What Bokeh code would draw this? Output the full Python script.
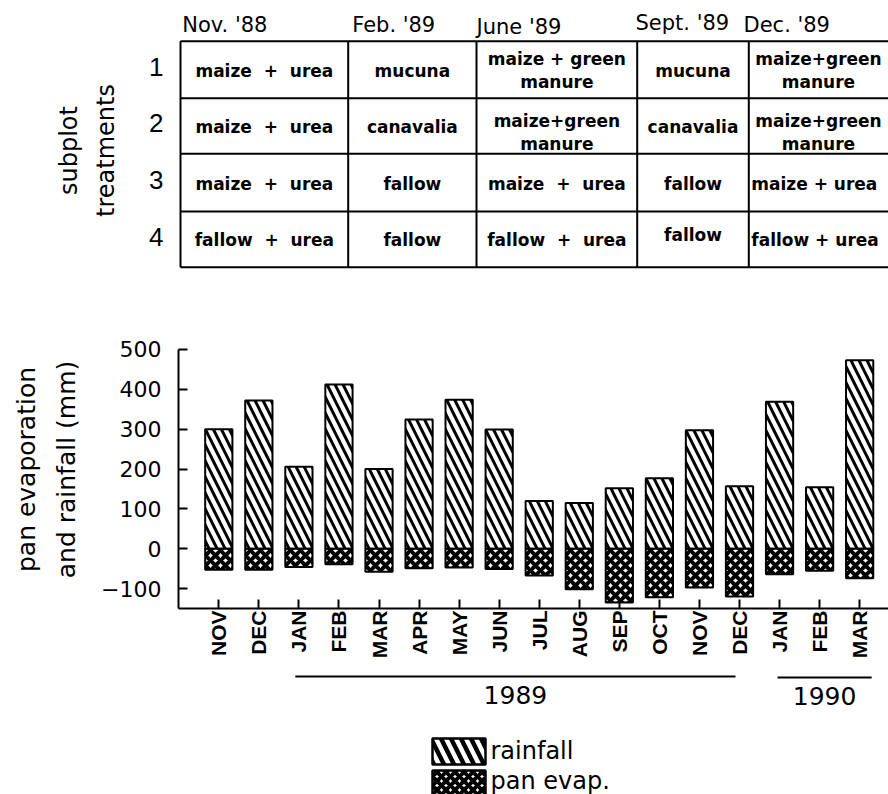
import math
from bokeh.plotting import figure
from bokeh.layouts import column
from bokeh.models import Range1d, LinearAxis, FixedTicker
from bokeh.core.properties import value
from bokeh.embed import file_html
from bokeh.resources import INLINE

# ---------------- data ----------------
months = ["NOV", "DEC", "JAN", "FEB", "MAR", "APR", "MAY", "JUN", "JUL",
          "AUG", "SEP", "OCT", "NOV", "DEC", "JAN", "FEB", "MAR"]
rainfall = [300, 372, 206, 412, 200, 324, 374, 299, 120,
            115, 152, 177, 297, 157, 369, 154, 473]
pan_evap = [53, 53, 46, 39, 58, 49, 47, 51, 67,
            102, 135, 122, 97, 120, 64, 55, 74]
y_ticks = [-100, 0, 100, 200, 300, 400, 500]

year_labels = ["1989", "1990"]
year_first_month = [2, 14]
year_last_month = [13, 16]

periods = ["Nov. '88", "Feb. '89", "June '89", "Sept. '89", "Dec. '89"]
plot_ids = ["1", "2", "3", "4"]
SP = "\u00a0"
treatments = [
    ["maize" + SP + " + " + SP + "urea", "mucuna", "maize + green\nmanure", "mucuna", "maize+green\nmanure"],
    ["maize" + SP + " + " + SP + "urea", "canavalia", "maize+green\nmanure", "canavalia", "maize+green\nmanure"],
    ["maize" + SP + " + " + SP + "urea", "fallow", "maize" + SP + " + " + SP + "urea", "fallow", "maize + urea"],
    ["fallow" + SP + " + " + SP + "urea", "fallow", "fallow" + SP + " + " + SP + "urea", "fallow", "fallow + urea"],
]
legend_labels = ["rainfall", "pan evap."]

# ---------------- styling / layout ----------------
W = 888
TOP_H, MID_H, BOT_H = 300, 368, 126
FRAME_LEFT = 178
SANS = "DejaVu Sans"
NUM = "Liberation Sans"
BASE_SHIFT = 8.5   # alphabetic baselines sit a little low in the svg output

# ---------------- treatment table ----------------
col_edges = [180, 347.7, 476, 636.7, 748.3, 905]
row_edges = [40.7, 97.7, 153.3, 211, 266.7]
header_x = [181.7, 351.7, 476, 635, 743]
header_y = [33, 33, 35, 31, 33]

top = figure(width=W, height=TOP_H, x_range=Range1d(FRAME_LEFT, W), y_range=Range1d(TOP_H, 0),
             output_backend="svg", toolbar_location=None, min_border_left=FRAME_LEFT,
             min_border_right=0, min_border_top=0, min_border_bottom=0,
             x_axis_location=None, y_axis_location=None)
top.grid.visible = False
top.outline_line_color = None

top.segment(x0=[col_edges[0]] * len(row_edges), x1=[col_edges[-1]] * len(row_edges),
            y0=row_edges, y1=row_edges, line_color="black", line_width=2)
top.segment(x0=col_edges[:-1], x1=col_edges[:-1],
            y0=[row_edges[0]] * (len(col_edges) - 1), y1=[row_edges[-1]] * (len(col_edges) - 1),
            line_color="black", line_width=2)

top.text(x=header_x, y=[h - BASE_SHIFT for h in header_y], text=periods,
         text_font=value(SANS), text_font_size="21px", text_align="left",
         text_baseline="alphabetic", text_color="black")

row_mid = [(row_edges[i] + row_edges[i + 1]) / 2 for i in range(len(plot_ids))]
id_ticks = [int(round(m - 3)) for m in row_mid]

# row numbers and the "subplot treatments" title live in the left panel
id_axis = LinearAxis(ticker=FixedTicker(ticks=id_ticks),
                     major_label_overrides={t: s for t, s in zip(id_ticks, plot_ids)},
                     axis_label="treatments")
title_axis = LinearAxis(ticker=FixedTicker(ticks=[]), axis_label="subplot")
for ax in (id_axis, title_axis):
    ax.axis_line_color = None
    ax.major_tick_line_color = None
    ax.minor_tick_line_color = None
    ax.major_tick_in = 0
    ax.major_tick_out = 0
    ax.axis_label_text_font = SANS
    ax.axis_label_text_font_size = "24px"
    ax.axis_label_text_font_style = "normal"
    ax.axis_label_text_color = "black"
id_axis.major_label_text_font = NUM
id_axis.major_label_text_font_size = "26px"
id_axis.major_label_text_color = "black"
id_axis.major_label_standoff = 15
id_axis.axis_label_standoff = 26
title_axis.major_label_standoff = 0
title_axis.axis_label_standoff = 7
top.add_layout(id_axis, "left")
top.add_layout(title_axis, "left")

# cell contents
cx, cy, ct, lx, ly, lt = [], [], [], [], [], []
for r, row in enumerate(treatments):
    for c, label in enumerate(row):
        if c == 4 and "\n" not in label:
            lx.append(col_edges[c] + 2.5)
            ly.append(row_mid[r] + 1)
            lt.append(label)
            continue
        x = 818 if c == 4 else (col_edges[c] + col_edges[c + 1]) / 2
        y = row_mid[r] + 1
        if "\n" in label and r == 1:
            y += 5
        if c == 3 and r == 3:
            y -= 5
        cx.append(x)
        cy.append(y)
        ct.append(label)
top.text(x=cx, y=cy, text=ct, text_font=value(SANS), text_font_size="17px",
         text_font_style="bold", text_align="center", text_baseline="middle",
         text_line_height=1.15, text_color="black")
top.text(x=lx, y=ly, text=lt, text_font=value(SANS), text_font_size="17px",
         text_font_style="bold", text_align="left", text_baseline="middle",
         text_color="black")

# ---------------- rainfall / evaporation bars ----------------
idx = list(range(len(months)))
p = figure(width=W, height=MID_H, x_range=Range1d(-1.006, 16.72),
           y_range=Range1d(-150, 547.6), output_backend="svg", toolbar_location=None,
           min_border_left=FRAME_LEFT, min_border_right=0, min_border_top=30,
           min_border_bottom=60, x_axis_location=None, y_axis_location=None)
p.grid.visible = False
p.outline_line_color = None

p.vbar(x=idx, top=rainfall, bottom=0, width=0.68, line_color="black", line_width=2,
       fill_color="white", hatch_pattern="\\", hatch_color="black",
       hatch_scale=16, hatch_weight=3)
p.vbar(x=idx, top=0, bottom=[-v for v in pan_evap], width=0.68, line_color="black",
       line_width=2, fill_color="white", hatch_pattern="x", hatch_color="black",
       hatch_scale=10, hatch_weight=4)

yaxis = LinearAxis(ticker=FixedTicker(ticks=y_ticks), bounds=(-150, 500),
                   major_label_overrides={-100: "\u2212100"},
                   axis_label="and rainfall (mm)")
xaxis = LinearAxis(ticker=FixedTicker(ticks=idx),
                   major_label_overrides={i: m for i, m in enumerate(months)},
                   major_label_orientation=math.pi / 2)
for ax in (yaxis, xaxis):
    ax.axis_line_width = 2
    ax.axis_line_color = "black"
    ax.major_tick_line_width = 2
    ax.major_tick_line_color = "black"
    ax.major_tick_in = 9
    ax.major_tick_out = 0
    ax.minor_tick_line_color = None
    ax.major_label_text_color = "black"

yaxis.major_label_text_font = SANS
yaxis.major_label_text_font_size = "22px"
yaxis.major_label_standoff = 17
yaxis.axis_label_text_font = SANS
yaxis.axis_label_text_font_size = "25px"
yaxis.axis_label_text_font_style = "normal"
yaxis.axis_label_text_color = "black"
yaxis.axis_label_standoff = 17

xaxis.major_label_text_font = NUM
xaxis.major_label_text_font_size = "21px"
xaxis.major_label_text_font_style = "bold"
xaxis.major_label_standoff = 2

ylabel2 = LinearAxis(ticker=FixedTicker(ticks=[]), axis_label="pan evaporation",
                     axis_line_color=None, major_tick_line_color=None,
                     minor_tick_line_color=None, major_tick_in=0, major_tick_out=0,
                     major_label_standoff=0,
                     axis_label_text_font=SANS, axis_label_text_font_size="25px",
                     axis_label_text_font_style="normal", axis_label_text_color="black",
                     axis_label_standoff=9)

p.add_layout(yaxis, "left")
p.add_layout(ylabel2, "left")
p.add_layout(xaxis, "below")

# ---------------- year brackets and legend ----------------
bot = figure(width=W, height=BOT_H, x_range=p.x_range,
             y_range=Range1d(TOP_H + MID_H + BOT_H, TOP_H + MID_H),
             output_backend="svg", toolbar_location=None, min_border_left=FRAME_LEFT,
             min_border_right=0, min_border_top=0, min_border_bottom=0,
             x_axis_location=None, y_axis_location=None)
bot.grid.visible = False
bot.outline_line_color = None
bot.extra_x_ranges = {"px": Range1d(FRAME_LEFT, W)}

span_pad = [(-0.09, -0.1), (-0.05, 0.3)]
yx0 = [f + a for f, (a, b) in zip(year_first_month, span_pad)]
yx1 = [l + b for l, (a, b) in zip(year_last_month, span_pad)]
bot.segment(x0=yx0, x1=yx1, y0=[676, 677], y1=[676, 677], line_color="black", line_width=2)
bot.text(x=[(a + b) / 2 for a, b in zip(yx0, yx1)],
         y=[703 - BASE_SHIFT, 704 - BASE_SHIFT], text=year_labels,
         text_font=value(SANS), text_font_size="25px", text_align="center",
         text_baseline="alphabetic", text_color="black")

bot.quad(left=[432], right=[485], top=[738], bottom=[764], x_range_name="px",
         line_color="black", line_width=2.5, fill_color="white", hatch_pattern="\\",
         hatch_color="black", hatch_scale=20, hatch_weight=4.5)
bot.quad(left=[432], right=[485], top=[770], bottom=[797], x_range_name="px",
         line_color="black", line_width=2.5, fill_color="white", hatch_pattern="x",
         hatch_color="black", hatch_scale=9, hatch_weight=4)
bot.text(x=[490, 490], y=[750, 780], text=legend_labels,
         x_range_name="px", text_font=value(SANS), text_font_size="24px",
         text_align="left", text_baseline="middle", text_color="black")

layout = column(top, p, bot, spacing=0)
open("out.html", "w").write(file_html(layout, INLINE))
